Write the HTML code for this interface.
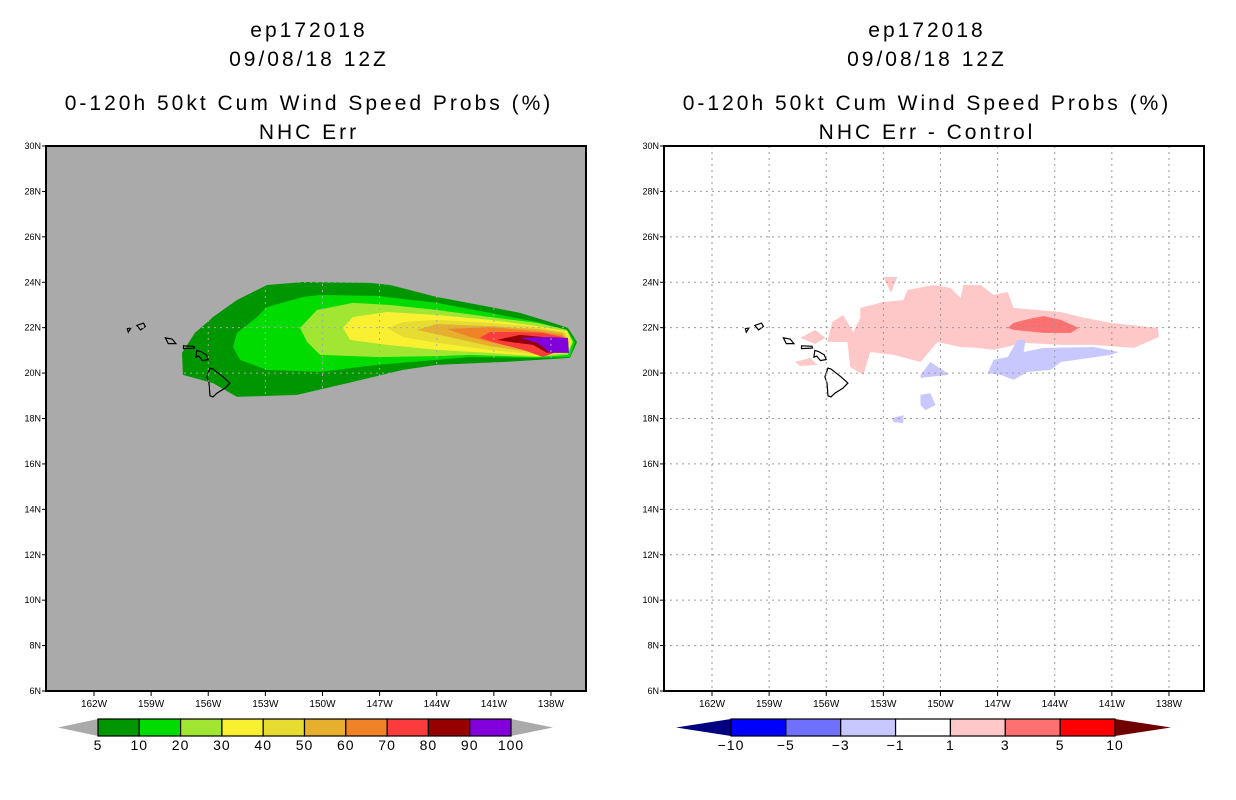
<!DOCTYPE html>
<html><head><meta charset="utf-8"><style>
html,body{margin:0;padding:0;background:#fff;}
svg{display:block;font-family:"Liberation Sans",sans-serif;}
</style></head><body>
<svg id="c" width="1236" height="800" viewBox="0 0 1236 800">
<g font-size="21" text-anchor="middle" fill="#000" letter-spacing="3">
<text x="309" y="37">ep172018</text>
<text x="309" y="66">09/08/18 12Z</text>
<text x="309" y="110">0-120h 50kt Cum Wind Speed Probs (%)</text>
<text x="309" y="139">NHC Err</text>
</g>
<g font-size="21" text-anchor="middle" fill="#000" letter-spacing="3">
<text x="927" y="37">ep172018</text>
<text x="927" y="66">09/08/18 12Z</text>
<text x="927" y="110">0-120h 50kt Cum Wind Speed Probs (%)</text>
<text x="927" y="139">NHC Err - Control</text>
</g>
<g id="L"></g>
<g id="R"></g>
<g id="CB"></g>
</svg>
<script>
const lonTicks=[162,159,156,153,150,147,144,141,138];
const latTicks=[30,28,26,24,22,20,18,16,14,12,10,8,6];
const probLevels=["5","10","20","30","40","50","60","70","80","90","100"];
const probColors=["#009600","#00dc00","#a0e632","#faf032","#e6dc32","#e6af2d","#f08228","#fa3c3c","#960000","#8200dc"];
const diffLevels=["-10","-5","-3","-1","1","3","5","10"];
const diffColors=["#0000ff","#7070ff","#c8c8ff","#ffffff","#ffc8c8","#ff7070","#ff0000"];
// probability contours [lonW, latN]
const p5=[[155.75,22.47],[154.49,23.22],[152.91,23.88],[151.02,24.01],[147.5,23.97],[146.45,23.88],[143.99,23.35],[141.2,22.91],[139.63,22.65],[138.05,22.25],[137.11,21.99],[136.63,21.37],[137,20.67],[140.52,20.49],[143.99,20.36],[145.77,20.14],[148.4,19.61],[151.34,19.04],[154.49,18.95],[155.75,19.56],[157.33,19.92],[157.38,20.89],[156.7,21.77],[155.91,22.34]];
const p10=[[154.7,21.15],[154.49,21.77],[153.44,22.47],[152.91,22.91],[151.02,23.35],[150.13,23.44],[147.14,23.4],[143.99,23.09],[141.2,22.65],[138.73,22.25],[137.16,21.9],[136.74,21.37],[137,20.71],[138.73,20.67],[142.25,20.71],[143.99,20.58],[147.14,20.36],[150.13,20.05],[152.91,20.14],[154.33,20.58]];
const p20=[[151.18,21.99],[150.29,22.78],[148.4,23.09],[146.45,23],[143.99,22.78],[141.2,22.47],[138.73,22.21],[137.16,21.9],[136.84,21.37],[137.11,20.8],[138.73,20.71],[142.25,20.8],[143.99,20.75],[147.14,20.71],[150.13,20.8],[150.81,21.37]];
const p30=[[148.92,21.99],[148.4,22.47],[146.61,22.69],[143.99,22.56],[141.2,22.34],[138.73,22.07],[137.16,21.85],[136.89,21.37],[137.16,20.89],[138.73,20.75],[141.2,20.89],[143.99,21.02],[146.61,21.24],[148.55,21.46]];
const p40=[[146.61,21.99],[145.77,22.25],[143.99,22.34],[141.2,22.21],[138.73,22.03],[137.26,21.81],[137,21.37],[137.26,20.89],[138.73,20.8],[141.2,21.02],[143.99,21.33],[145.77,21.59]];
const p50=[[145.04,21.9],[143.99,22.16],[141.2,22.07],[138.73,21.94],[137.37,21.77],[137.11,21.37],[137.37,20.93],[138.73,20.89],[141.2,21.19],[143.15,21.55]];
const p60=[[143.46,21.94],[141.2,22.03],[138.73,21.85],[137.42,21.68],[137.16,21.37],[137.42,21.02],[138.73,20.89],[141.2,21.37],[142.25,21.59]];
const p70=[[141.73,21.55],[141.2,21.81],[139.63,21.81],[138.42,21.77],[137.42,21.59],[137.26,21.37],[137.42,21.02],[138.42,20.71],[139.47,21.02],[141.04,21.37]];
const p80=[[140.83,21.46],[139.63,21.68],[138.42,21.59],[137.37,21.46],[137.37,21.02],[138.21,20.89],[138.94,21.24],[140.15,21.37]];
const p90=[[139.63,21.55],[138.21,21.59],[137.11,21.55],[137.05,20.89],[138.05,20.89],[138.73,21.33]];
const probPolys=[p5,p10,p20,p30,p40,p50,p60,p70,p80,p90];
// difference areas
const dPinkMain=[[155.95,21.37],[155.68,22.25],[155.11,22.56],[154.58,21.81],[154.21,22.43],[154.21,22.87],[153,23.13],[151.95,23.22],[151.74,23.66],[150.37,23.88],[149.47,23.75],[148.95,23.31],[148.79,23.88],[147.89,23.88],[147.21,23.44],[146.47,23.57],[146.16,22.87],[143.68,22.69],[142.63,22.47],[141.05,22.21],[138.58,21.99],[138.53,21.59],[139.84,21.11],[141.95,21.24],[143.68,21.24],[145.63,21.33],[147.21,21.02],[148.05,21.11],[148.95,21.15],[150.16,21.37],[151.05,20.49],[152.47,20.8],[153.68,20.93],[154.05,19.92],[154.74,20.27],[154.89,21.37]];
const dPinkTop=[[153,24.23],[152.26,24.23],[152.6,23.53]];
const dPinkA=[[157.37,21.55],[156.58,21.9],[156.05,21.55],[156.58,21.28]];
const dPinkB=[[157.63,20.49],[156.84,20.67],[156.47,20.36],[157.37,20.31]];
const dRed=[[146.47,21.99],[146.16,22.21],[145.11,22.43],[144.58,22.51],[143.68,22.34],[142.74,21.99],[143.16,21.77],[144.58,21.77],[146.16,21.9]];
const dBlueMain=[[147.53,20],[147.21,20.58],[146.47,20.71],[145.95,21.46],[145.53,21.46],[145.63,20.93],[144.58,21.11],[141.95,21.15],[140.63,20.93],[141.05,20.8],[143.68,20.49],[144.21,20.14],[145.42,20.05],[146.16,19.7],[146.84,19.92]];
const dBlueA=[[151.05,19.92],[150.53,20.49],[149.74,20.05],[149.58,19.92],[151.05,19.79]];
const dBlueB=[[151.05,19.04],[150.53,19.12],[150.26,18.59],[150.79,18.37],[151.05,18.59]];
const dBlueC=[[152.53,18.02],[151.95,18.15],[151.95,17.8],[152.47,17.84]];
const diffPolys=[[dPinkMain,"#ffc8c8"],[dPinkTop,"#ffc8c8"],[dPinkA,"#ffc8c8"],[dPinkB,"#ffc8c8"],[dRed,"#ff7070"],[dBlueMain,"#c8c8ff"],[dBlueA,"#c8c8ff"],[dBlueB,"#c8c8ff"],[dBlueC,"#c8c8ff"]];
const islands=[
 [[155.91,20.22],[155.75,20.18],[155.22,19.83],[154.86,19.56],[155.12,19.34],[155.54,19.12],[155.75,18.95],[155.91,19],[155.96,19.56],[156.07,19.83]],
 [[156.6,21.0],[156.4,20.95],[156.1,20.8],[156.0,20.6],[156.3,20.55],[156.5,20.75],[156.65,20.7]],
 [[157.3,21.2],[156.75,21.18],[156.72,21.1],[157.3,21.08]],
 [[158.25,21.55],[157.9,21.5],[157.7,21.3],[158.1,21.3]],
 [[159.75,22.1],[159.4,22.2],[159.3,22.05],[159.55,21.9]],
 [[160.25,21.95],[160.05,22.0],[160.2,21.8]]
];
const NS="http://www.w3.org/2000/svg";
function mk(tag,attrs,parent){const e=document.createElementNS(NS,tag);for(const k in attrs)e.setAttribute(k,attrs[k]);parent.appendChild(e);return e;}
function makeAxes(x0){
 const left=x0, right=x0+540, top=146, bottom=691;
 const xs=lon=>x0+48+(162-lon)*19.04;
 const ys=lat=>top+(30-lat)*(545/24);
 return {left,right,top,bottom,xs,ys};
}
function pts(poly,a){return poly.map(p=>a.xs(p[0]).toFixed(1)+","+a.ys(p[1]).toFixed(1)).join(" ");}
function drawMap(g,x0,bg,polys,gridColor){
 const a=makeAxes(x0);
 const clipId="clip"+x0;
 const cp=mk("clipPath",{id:clipId},g);
 mk("rect",{x:a.left,y:a.top,width:540,height:545},cp);
 const bgr=mk("rect",{x:a.left,y:a.top,width:540,height:545,fill:bg},g);
 
 
 const inner=mk("g",{"clip-path":"url(#"+clipId+")"},g);
 polys.forEach(([poly,col],i)=>{
  const p=mk("polygon",{points:pts(poly,a),fill:col},inner);
  
  
 });
 islands.forEach((isl,i)=>{
  const p=mk("polygon",{points:pts(isl,a),fill:"none",stroke:"#000","stroke-width":1.2},inner);
  
  
 });
 lonTicks.forEach(l=>{
  const x=a.xs(l);
  const ln=mk("line",{x1:x,x2:x,y1:a.top,y2:a.bottom,stroke:gridColor,"stroke-width":1,"stroke-dasharray":"2,4"},inner);
  
  
  const tk=mk("line",{x1:x,x2:x,y1:a.bottom,y2:a.bottom+5,stroke:"#000"},g);
  
  
  const t=mk("text",{x:x,y:a.bottom+16,"font-size":10,"text-anchor":"middle"},g);
  t.textContent=l+"W";
  
  
 });
 latTicks.forEach(l=>{
  const y=a.ys(l);
  if(l<30&&l>6){
   const ln=mk("line",{x1:a.left,x2:a.right,y1:y,y2:y,stroke:gridColor,"stroke-width":1,"stroke-dasharray":"2,4"},inner);
   
   
  }
  const tk=mk("line",{x1:a.left-4,x2:a.left,y1:y,y2:y,stroke:"#000"},g);
  
  
  const t=mk("text",{x:a.left-5,y:y+3,"font-size":9,"text-anchor":"end"},g);
  t.textContent=l+"N";
  
  
 });
 const fr=mk("rect",{x:a.left,y:a.top,width:540,height:545,fill:"none",stroke:"#000","stroke-width":2},g);
 
 
}
drawMap(document.getElementById("L"),46,"#aaaaaa",probPolys.map((p,i)=>[p,probColors[i]]),"#aaaaaa");
drawMap(document.getElementById("R"),664,"#ffffff",diffPolys,"#9a9a9a");
function colorbar(g,x1,x2,tipL,tipR,cols,labels,cL,cR,name){
 const y1=719,y2=736,n=cols.length,w=(x2-x1)/n,ym=(y1+y2)/2;
 const tl=mk("polygon",{points:`${tipL},${ym} ${x1},${y1} ${x1},${y2}`,fill:cL},g);
 
 
 const tr=mk("polygon",{points:`${tipR},${ym} ${x2},${y1} ${x2},${y2}`,fill:cR},g);
 
 
 cols.forEach((c,i)=>{
  const r=mk("rect",{x:x1+i*w,y:y1,width:w,height:y2-y1,fill:c,stroke:"#000","stroke-width":1.2},g);
  
  
 });
 labels.forEach((l,i)=>{
  const t=mk("text",{x:x1+i*w,y:y2+14,"font-size":14,"text-anchor":"middle","letter-spacing":1},g);
  t.textContent=l.replace("-","\u2212");
  
  
 });
}
const cb=document.getElementById("CB");
colorbar(cb,98,511,58,553,probColors,probLevels,"#aaaaaa","#aaaaaa","prob-colorbar");
colorbar(cb,731,1115,676,1171,diffColors,diffLevels,"#000080","#700000","diff-colorbar");
</script>
</body></html>
